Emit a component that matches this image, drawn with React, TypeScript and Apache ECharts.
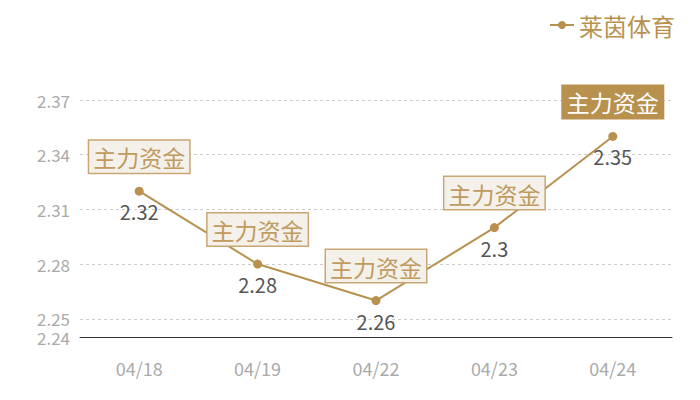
import { useEffect, useRef } from 'react';
import * as echarts from 'echarts';

const dates = ['04/18', '04/19', '04/22', '04/23', '04/24'];
const prices = [2.32, 2.28, 2.26, 2.3, 2.35];
const tagText = '主力资金';
const seriesName = '莱茵体育';

const GOLD = '#b8914f';
const FONT = '"Noto Sans CJK SC", "Noto Sans", sans-serif';

const App = () => {
  const chartRef = useRef<HTMLDivElement>(null);

  useEffect(() => {
    if (!chartRef.current) return;
    const chart = echarts.init(chartRef.current, undefined, { renderer: 'svg' });

    const tagData = prices.map((v, i) =>
      i === prices.length - 1
        ? {
            value: v,
            label: {
              backgroundColor: GOLD,
              borderColor: GOLD,
              color: '#fff',
            },
          }
        : v
    );

    chart.setOption({
      animation: false,
      textStyle: { fontFamily: FONT },
      legend: {
        data: [seriesName],
        right: 14,
        top: 0,
        padding: 3,
        itemWidth: 24,
        itemHeight: 10,
        itemGap: 4,
        textStyle: { color: GOLD, fontSize: 24, lineHeight: 28, fontFamily: FONT },
      },
      grid: { left: 72, right: 20, top: 92, bottom: 55 },
      xAxis: {
        type: 'category',
        data: dates,
        boundaryGap: true,
        axisLine: { lineStyle: { color: '#333', width: 1 } },
        axisTick: { show: false },
        axisLabel: { color: '#aaa', fontSize: 18, margin: 22, fontFamily: FONT },
      },
      yAxis: {
        type: 'value',
        min: 2.24,
        max: 2.37,
        axisLine: { show: false },
        axisTick: { show: false },
        axisLabel: {
          color: '#aaa',
          fontSize: 17,
          margin: 10,
          fontFamily: FONT,
        },
        splitLine: { lineStyle: { color: '#ccc', type: [3, 3] } },
      },
      series: [
        {
          name: seriesName,
          type: 'line',
          data: prices,
          symbol: 'circle',
          symbolSize: 9,
          itemStyle: { color: GOLD },
          lineStyle: { color: GOLD, width: 2 },
          label: {
            show: true,
            position: 'bottom',
            distance: 6,
            color: '#555',
            fontSize: 20,
            fontFamily: FONT,
          },
          z: 3,
        },
        {
          name: tagText,
          type: 'line',
          data: tagData,
          symbol: 'circle',
          symbolSize: 1,
          showSymbol: true,
          itemStyle: { color: 'transparent' },
          lineStyle: { opacity: 0 },
          label: {
            show: true,
            position: 'top',
            distance: 18,
            formatter: tagText,
            color: '#c09a5e',
            fontSize: 23,
            fontFamily: FONT,
            backgroundColor: '#f4f0ea',
            borderColor: '#c9a775',
            borderWidth: 1.5,
            padding: [5, 4, 4, 4],
          },
          silent: true,
          z: 4,
        },
      ],
    });

    return () => {
      chart.dispose();
    };
  }, []);

  return <div ref={chartRef} style={{ width: 684, height: 384 }} />;
};

export default App;
